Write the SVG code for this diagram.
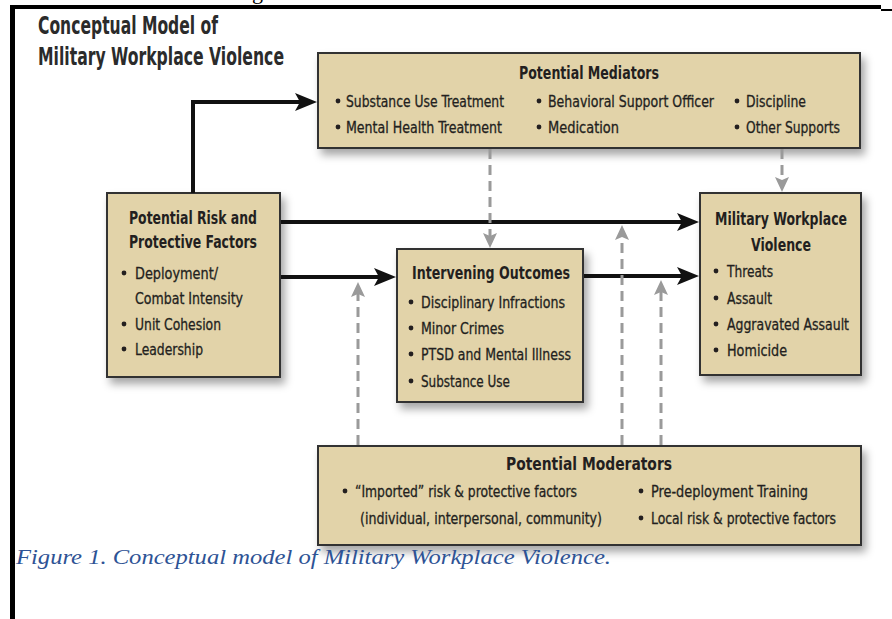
<svg xmlns="http://www.w3.org/2000/svg" width="892" height="619" viewBox="0 0 892 619">
<defs>
<style>
.box{fill:#E2D3A9;stroke:#333;stroke-width:2;filter:url(#sh)}
.h{font-family:"Liberation Sans Narrow","DejaVu Sans Condensed","Open Sans",sans-serif;font-weight:bold;font-size:17px;fill:#231f20}
.t{font-family:"Liberation Sans Narrow","DejaVu Sans Condensed","Open Sans",sans-serif;font-size:16px;fill:#231f20;stroke:#231f20;stroke-width:0.3}
.b{fill:#231f20}
.title{font-family:"Liberation Sans Narrow","DejaVu Sans Condensed","Open Sans",sans-serif;font-weight:bold;font-size:24px;fill:#2b2b2b}
.solid{stroke:#111;stroke-width:4;fill:none;marker-end:url(#ab)}
.dash{stroke:#9a9a9a;stroke-width:3;stroke-dasharray:10 6;fill:none;marker-end:url(#ag)}
.cap{font-family:"Liberation Serif","Times New Roman",Times,serif;font-style:italic;font-size:21px;fill:#2E5395}
</style>
<filter id="sh" x="-10%" y="-10%" width="130%" height="140%">
<feDropShadow dx="4" dy="6" stdDeviation="4" flood-color="#000" flood-opacity="0.35"/>
</filter>
<marker id="ab" markerUnits="userSpaceOnUse" markerWidth="24" markerHeight="20" refX="5" refY="9" orient="auto">
<path d="M0,0 L22,9 L0,18 L5,9 Z" fill="#111"/>
</marker>
<marker id="ag" markerUnits="userSpaceOnUse" markerWidth="16" markerHeight="16" refX="3" refY="7" orient="auto">
<path d="M0,0 L15,7 L0,14 L3,7 Z" fill="#9a9a9a"/>
</marker>
</defs>
<rect width="892" height="619" fill="#fff"/>
<g id="frame">
<line x1="10" y1="7" x2="881" y2="7" stroke="#000" stroke-width="4"/>
<line x1="881" y1="10" x2="892" y2="10" stroke="#000" stroke-width="2"/>
<line x1="12.5" y1="5" x2="12.5" y2="619" stroke="#000" stroke-width="5"/>
<text x="252" y="-1" font-family="Liberation Serif,serif" font-size="22" fill="#000">g</text>
</g>
<g id="title">
<text class="title" x="38" y="34" textLength="180" lengthAdjust="spacingAndGlyphs">Conceptual Model of</text>
<text class="title" x="38" y="65" textLength="246" lengthAdjust="spacingAndGlyphs">Military Workplace Violence</text>
</g>
<g id="mediators">
<rect class="box" x="318" y="53" width="542" height="95"/>
<text class="h" x="519" y="79" textLength="140" lengthAdjust="spacingAndGlyphs">Potential Mediators</text>
<circle class="b" cx="338" cy="101" r="2.4"/>
<text class="t" x="346" y="107" textLength="158" lengthAdjust="spacingAndGlyphs">Substance Use Treatment</text>
<circle class="b" cx="338" cy="127" r="2.4"/>
<text class="t" x="346" y="133" textLength="156" lengthAdjust="spacingAndGlyphs">Mental Health Treatment</text>
<circle class="b" cx="539" cy="101" r="2.4"/>
<text class="t" x="548" y="107" textLength="166" lengthAdjust="spacingAndGlyphs">Behavioral Support Officer</text>
<circle class="b" cx="539" cy="127" r="2.4"/>
<text class="t" x="548" y="133" textLength="71" lengthAdjust="spacingAndGlyphs">Medication</text>
<circle class="b" cx="737" cy="101" r="2.4"/>
<text class="t" x="746" y="107" textLength="60" lengthAdjust="spacingAndGlyphs">Discipline</text>
<circle class="b" cx="737" cy="127" r="2.4"/>
<text class="t" x="746" y="133" textLength="94" lengthAdjust="spacingAndGlyphs">Other Supports</text>
</g>
<g id="risk">
<rect class="box" x="107" y="193" width="173" height="184"/>
<text class="h" x="129" y="224" textLength="128" lengthAdjust="spacingAndGlyphs">Potential Risk and</text>
<text class="h" x="129" y="248" textLength="128" lengthAdjust="spacingAndGlyphs">Protective Factors</text>
<circle class="b" cx="124" cy="273" r="2.4"/>
<text class="t" x="135" y="279" textLength="83" lengthAdjust="spacingAndGlyphs">Deployment/</text>
<text class="t" x="135" y="304" textLength="108" lengthAdjust="spacingAndGlyphs">Combat Intensity</text>
<circle class="b" cx="124" cy="324" r="2.4"/>
<text class="t" x="135" y="330" textLength="86" lengthAdjust="spacingAndGlyphs">Unit Cohesion</text>
<circle class="b" cx="124" cy="349" r="2.4"/>
<text class="t" x="135" y="355" textLength="68" lengthAdjust="spacingAndGlyphs">Leadership</text>
</g>
<g id="intervening">
<rect class="box" x="397" y="249" width="186" height="153"/>
<text class="h" x="412" y="279" textLength="158" lengthAdjust="spacingAndGlyphs">Intervening Outcomes</text>
<circle class="b" cx="411" cy="302" r="2.4"/>
<text class="t" x="421" y="308" textLength="144" lengthAdjust="spacingAndGlyphs">Disciplinary Infractions</text>
<circle class="b" cx="411" cy="328" r="2.4"/>
<text class="t" x="421" y="334" textLength="83" lengthAdjust="spacingAndGlyphs">Minor Crimes</text>
<circle class="b" cx="411" cy="354" r="2.4"/>
<text class="t" x="421" y="360" textLength="150" lengthAdjust="spacingAndGlyphs">PTSD and Mental Illness</text>
<circle class="b" cx="411" cy="381" r="2.4"/>
<text class="t" x="421" y="387" textLength="89" lengthAdjust="spacingAndGlyphs">Substance Use</text>
</g>
<g id="violence">
<rect class="box" x="700" y="193" width="161" height="182"/>
<text class="h" x="715" y="225" textLength="132" lengthAdjust="spacingAndGlyphs">Military Workplace</text>
<text class="h" x="751" y="251" textLength="60" lengthAdjust="spacingAndGlyphs">Violence</text>
<circle class="b" cx="716" cy="271" r="2.4"/>
<text class="t" x="727" y="277" textLength="46" lengthAdjust="spacingAndGlyphs">Threats</text>
<circle class="b" cx="716" cy="298" r="2.4"/>
<text class="t" x="727" y="304" textLength="45" lengthAdjust="spacingAndGlyphs">Assault</text>
<circle class="b" cx="716" cy="324" r="2.4"/>
<text class="t" x="727" y="330" textLength="122" lengthAdjust="spacingAndGlyphs">Aggravated Assault</text>
<circle class="b" cx="716" cy="350" r="2.4"/>
<text class="t" x="727" y="356" textLength="60" lengthAdjust="spacingAndGlyphs">Homicide</text>
</g>
<g id="moderators">
<rect class="box" x="318" y="446" width="543" height="99"/>
<text class="h" x="506" y="470" textLength="166" lengthAdjust="spacingAndGlyphs">Potential Moderators</text>
<circle class="b" cx="345" cy="491" r="2.4"/>
<text class="t" x="355" y="497" textLength="222" lengthAdjust="spacingAndGlyphs">“Imported” risk &amp; protective factors</text>
<text class="t" x="360" y="524" textLength="242" lengthAdjust="spacingAndGlyphs">(individual, interpersonal, community)</text>
<circle class="b" cx="641" cy="491" r="2.4"/>
<text class="t" x="651" y="497" textLength="157" lengthAdjust="spacingAndGlyphs">Pre-deployment Training</text>
<circle class="b" cx="641" cy="518" r="2.4"/>
<text class="t" x="651" y="524" textLength="185" lengthAdjust="spacingAndGlyphs">Local risk &amp; protective factors</text>
</g>
<g id="connectors">
<path class="solid" d="M193,193 V102 H300"/>
<path class="solid" d="M281,222 H682"/>
<path class="solid" d="M281,277 H379"/>
<path class="solid" d="M584,276 H682"/>
<path class="dash" d="M490,149 V236"/>
<path class="dash" d="M782,149 V180"/>
<path class="dash" d="M358,445 V294"/>
<path class="dash" d="M622,445 V237"/>
<path class="dash" d="M661,445 V292"/>
</g>
<g id="caption">
<text class="cap" x="16" y="564" textLength="595" lengthAdjust="spacingAndGlyphs">Figure 1. Conceptual model of Military Workplace Violence.</text>
</g>
</svg>
